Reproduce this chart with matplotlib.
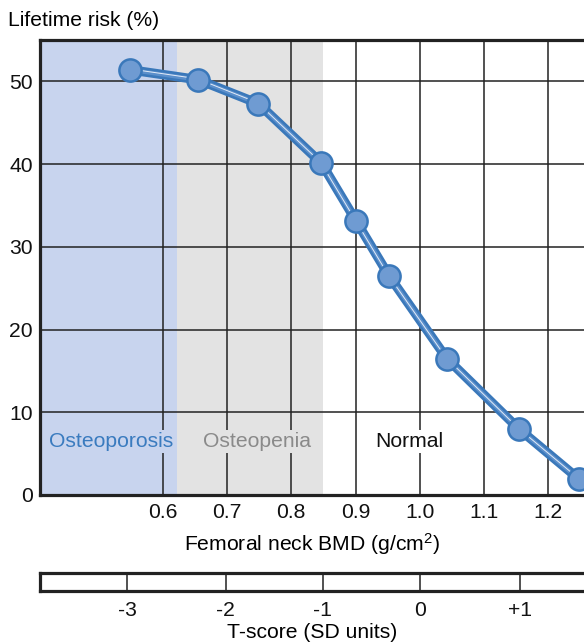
import matplotlib
matplotlib.use("Agg")
import matplotlib.pyplot as plt
from matplotlib.transforms import offset_copy

FS = 15.2
plt.rcParams['font.family'] = ['Liberation Sans', 'DejaVu Sans']
plt.rcParams['font.size'] = FS
plt.rcParams['mathtext.fontset'] = 'custom'
plt.rcParams['mathtext.rm'] = 'Liberation Sans'
plt.rcParams['mathtext.it'] = 'Liberation Sans'

# ---- data ----
bmd = [0.549, 0.655, 0.749, 0.847, 0.901, 0.952, 1.042, 1.154, 1.248]
risk = [51.4, 50.2, 47.3, 40.1, 33.1, 26.5, 16.5, 8.0, 1.9]
x_ticks = [0.6, 0.7, 0.8, 0.9, 1.0, 1.1, 1.2]
x_tick_labels = ['0.6', '0.7', '0.8', '0.9', '1.0', '1.1', '1.2']
y_ticks = [0, 10, 20, 30, 40, 50]
t_score_bmd = [0.545, 0.698, 0.849, 1.0, 1.156]
t_score_labels = ['-3', '-2', '-1', '0', '+1']
osteoporosis_limit = 0.622
osteopenia_limit = 0.850
region_names = ['Osteoporosis', 'Osteopenia', 'Normal']
region_label_x = [0.520, 0.7465, 0.983]
region_label_y = 6.5

W, H = 584, 644
fig = plt.figure(figsize=(W / 100, H / 100), dpi=100)

xmin, xmax = 0.409, 1.2555
left = 40 / W
ax = fig.add_axes([left, 1 - 495 / H, 1 - left, (495 - 40) / H])
ax.set_xlim(xmin, xmax)
ax.set_ylim(0, 55)

blue_bg = '#c8d4ee'
grey_bg = '#e3e3e3'
ax.axvspan(xmin, osteoporosis_limit, color=blue_bg, zorder=0.2, lw=0)
ax.axvspan(osteoporosis_limit, osteopenia_limit, color=grey_bg, zorder=0.2, lw=0)

ax.set_axisbelow(True)
ax.set_xticks(x_ticks)
ax.set_xticklabels(x_tick_labels)
ax.set_yticks(y_ticks)
ax.grid(True, color='#222222', lw=1.1, zorder=0.5)
ax.tick_params(length=0, pad=6, colors='#111111')
ax.tick_params(axis='y', pad=5)

for s in ['left', 'bottom', 'top']:
    ax.spines[s].set_linewidth(2.3)
    ax.spines[s].set_color('#222222')
ax.spines['right'].set_visible(False)

# region labels
region_colors = ['#3a7bbf', '#8a8a8a', '#111111']
region_bg = [blue_bg, grey_bg, 'white']
for name, xc, c, bg in zip(region_names, region_label_x, region_colors, region_bg):
    ax.text(xc, region_label_y, name, color=c, ha='center', va='center',
            fontsize=FS, zorder=2,
            bbox=dict(facecolor=bg, edgecolor='none', pad=1.5))

# curve
line_col = '#3a78ba'
ax.plot(bmd, risk, color=line_col, lw=6.8, solid_capstyle='round',
        solid_joinstyle='round', zorder=3)
ax.plot(bmd, risk, color='#5b8fcb', lw=3.0, solid_capstyle='round',
        solid_joinstyle='round', zorder=3.2)
hl = offset_copy(ax.transData, fig=fig, x=-0.6, y=0.7, units='points')
ax.plot(bmd, risk, color='#e3ecf8', lw=0.7, zorder=3.5, transform=hl)
ax.plot(bmd, risk, ls='none', marker='o', ms=16, mfc='#6f9bd2',
        mec=line_col, mew=1.8, zorder=4)

ax.set_xlabel(r'Femoral neck BMD (g/cm$^2$)', fontsize=FS, labelpad=6)
fig.text(8 / W, 1 - 20 / H, 'Lifetime risk (%)', ha='left', va='center',
         fontsize=FS)

# T-score bar
tax = fig.add_axes([left, 1 - 591 / H, 1 - left, 18 / H])
tax.set_xlim(xmin, xmax)
tax.set_ylim(0, 1)
tax.set_yticks([])
tax.vlines(t_score_bmd, 0, 1, color='#222222', lw=1.1)
tax.set_xticks(t_score_bmd)
tax.set_xticklabels(t_score_labels)
tax.tick_params(length=0, pad=7, colors='#111111')
for s in ['left', 'bottom', 'top']:
    tax.spines[s].set_linewidth(2.3)
    tax.spines[s].set_color('#222222')
tax.spines['right'].set_visible(False)
fig.text(312 / W, 1 - 632 / H, 'T-score (SD units)', ha='center',
         va='center', fontsize=FS)

fig.savefig('out.png', dpi=100)
